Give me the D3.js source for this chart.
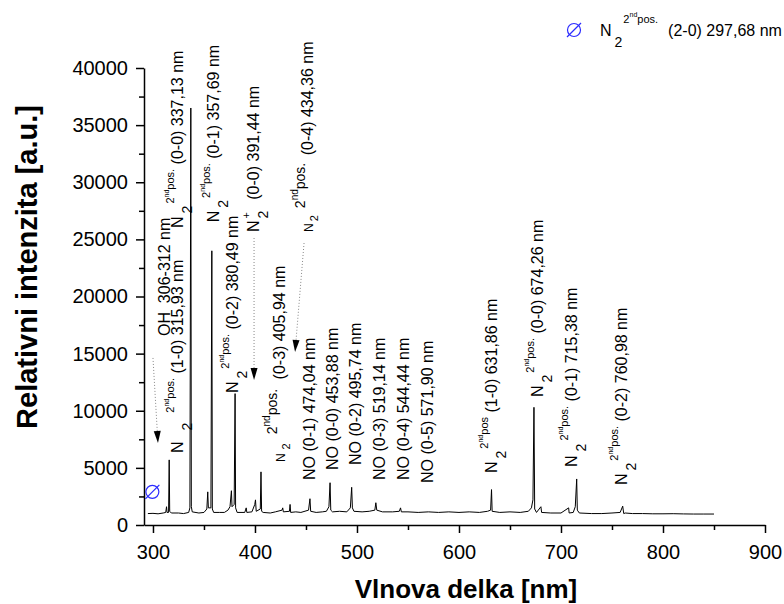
<!DOCTYPE html>
<html>
<head>
<meta charset="utf-8">
<script src="https://cdn.jsdelivr.net/npm/d3@7/dist/d3.min.js"></script>
<style>
  body { margin: 0; background: #fff; }
  svg { display: block; font-family: "Liberation Sans", Arial, sans-serif; }
  text { white-space: pre; }
</style>
</head>
<body>
<svg id="chart" width="784" height="604"></svg>
<script>
// Emission spectrum, values (nm / a.u.)
const wavelengths = [
  295, 300, 305, 310, 312.5, 313.3, 313.8, 315.3, 315.9, 316.4, 318, 325, 330, 335, 336.2, 337.1, 337.6, 338.5,
  345, 350, 352.8, 353.7, 354.3, 356.8, 357.7, 358.2, 359.5, 365, 370, 373.5, 375.5, 376.9, 377.5, 379.6, 380.5,
  381.0, 382.5, 390, 391.4, 392, 397, 399.8, 400.5, 401.2, 405.2, 405.9, 406.5, 408, 415, 420, 426.5, 427.2,
  427.8, 433.8, 434.4, 435, 440, 445, 452.5, 453.9, 454.6, 460, 466, 470, 472.5, 473.6, 474.3, 476, 483, 490,
  493.5, 494.8, 495.5, 497, 505, 512, 517.5, 518.5, 519.4, 525, 535, 541.5, 542.7, 543.5, 550, 560, 570, 580,
  590, 600, 610, 620, 628, 631, 631.9, 632.5, 640, 650, 660, 668, 671, 672.5, 673.5, 674.2, 676, 680.3, 681,
  690, 700, 707.5, 708, 712, 714, 715.4, 716, 718, 730, 740, 750, 758, 760.5, 761.5, 763, 770, 780, 790, 800,
  810, 820, 830, 840, 850
];
const intensities = [
  1000, 1020, 980, 1050, 1100, 1600, 1100, 1100, 5700, 1200, 1050, 1050, 1000, 1100, 1500, 36500, 1600, 1150,
  1050, 1100, 1400, 2900, 1500, 1500, 24000, 1400, 1100, 1100, 1100, 1300, 1600, 3000, 1600, 1800, 11500,
  1500, 1100, 1100, 1500, 1100, 1150, 1800, 2200, 1200, 1400, 4650, 1200, 1100, 1050, 1150, 1300, 1500,
  1150, 1200, 1800, 1100, 1150, 1100, 1300, 2300, 1200, 1100, 1150, 1200, 1600, 3700, 1300, 1150, 1200, 1150,
  1500, 3300, 1500, 1200, 1150, 1200, 1300, 1950, 1300, 1150, 1150, 1200, 1500, 1150, 1150, 1100, 1150, 1100,
  1150, 1100, 1150, 1100, 1200, 1300, 3100, 1200, 1100, 1150, 1100, 1200, 1500, 2200, 10300, 1400, 1100, 1600, 1100,
  1050, 1050, 1500, 1050, 1100, 1600, 4030, 1300, 1050, 1000, 1000, 1050, 1100, 1650, 1000, 1050, 1000, 1000, 980, 980,
  990, 970, 960, 960, 960
];

const xTicks = [300, 400, 500, 600, 700, 800, 900];
const xMinorTicks = [350, 450, 550, 650, 750, 850];
const yTicks = [0, 5000, 10000, 15000, 20000, 25000, 30000, 35000, 40000];
const yMinorTicks = [2500, 7500, 12500, 17500, 22500, 27500, 32500, 37500];

// N2 2nd pos. (2-0) 297,68 nm marker
const markerPoint = { wl: 299.4, value: 2900 };

// N2 second positive band labels: anchor = start of "N" (nm, a.u.)
const n2Labels = [
  { band: '(1-0) 315,93 nm', sup: 'pos.', small: false, pad: 8, at: [329.4, 6300] },
  { band: '(0-0) 337,13 nm', sup: 'pos.', small: false, pad: 0, at: [329.4, 26000] },
  { band: '(0-1) 357,69 nm', sup: 'pos.', small: false, pad: 0, at: [364.8, 26500] },
  { band: '(0-2) 380,49 nm', sup: 'pos.', small: false, pad: 0, at: [383.4, 11550] },
  { band: '(0-4) 434,36 nm', sup: 'pos.', small: true, pad: 0, at: [456.9, 25650] },
  { band: '(0-3) 405,94 nm', sup: 'pos.', small: true, pad: 2, at: [429.5, 5510] },
  { band: '(1-0) 631,86 nm', sup: 'pos', small: false, pad: 0, at: [637.4, 4550] },
  { band: '(0-0) 674,26 nm', sup: 'pos.', small: false, pad: 0, at: [682.5, 11200] },
  { band: '(0-1) 715,38 nm', sup: 'pos.', small: false, pad: 1, at: [715.8, 5080] },
  { band: '(0-2) 760,98 nm', sup: 'pos.', small: false, pad: 0, at: [764.9, 3500] }
];
const ionLabel = { band: '(0-0) 391,44 nm', at: [404.0, 25650] };
const ohLabel = { text: 'OH  306-312 nm', at: [316.7, 16540] };

const noLabels = ['NO (0-1) 474,04 nm', 'NO (0-0) 453,88 nm', 'NO (0-2) 495,74 nm',
                  'NO (0-3) 519,14 nm', 'NO (0-4) 544,44 nm', 'NO (0-5) 571,90 nm'];
const noAnchors = [[458.9, 3940], [481.5, 4810], [504.0, 5250], [527.5, 3940], [551.1, 3940], [574.6, 3680]];

// dotted pointers: [start nm, start a.u., tip nm, tip a.u.]
const pointers = [
  [300.0, 14620, 304.9, 7180],
  [399.1, 25120, 399.1, 12690],
  [448.1, 24680, 439.3, 15140]
];

const svg = d3.select('#chart');
const x = d3.scaleLinear().domain([291.2, 900]).range([144, 765]);
const y = d3.scaleLinear().domain([0, 40000]).range([525, 68]);

// axes
const axisFont = g => g.selectAll('text').style('font-size', '20px').attr('fill', '#000');
const axisLine = g => g.selectAll('path, line').attr('stroke', '#000').attr('stroke-width', 1.5);

svg.append('g').attr('transform', 'translate(0,525)')
  .call(d3.axisBottom(x).tickValues(xMinorTicks).tickSize(5).tickFormat('').tickSizeOuter(0))
  .call(axisLine).call(g => g.select('.domain').remove());
svg.append('g').attr('transform', 'translate(0,525)')
  .call(d3.axisBottom(x).tickValues(xTicks).tickSize(8).tickPadding(12).tickSizeOuter(0))
  .call(axisLine).call(axisFont);

svg.append('g').attr('transform', 'translate(144,0)')
  .call(d3.axisLeft(y).tickValues(yMinorTicks).tickSize(5).tickFormat('').tickSizeOuter(0))
  .call(axisLine).call(g => g.select('.domain').remove());
svg.append('g').attr('transform', 'translate(144,0)')
  .call(d3.axisLeft(y).tickValues(yTicks).tickSize(8).tickPadding(8).tickSizeOuter(0).tickFormat(d3.format('d')))
  .call(axisLine).call(axisFont);

svg.selectAll('.tick text').attr('font-family', null);

// axis titles
svg.append('text')
  .attr('x', 466).attr('y', 598)
  .attr('text-anchor', 'middle')
  .style('font-size', '26px').style('font-weight', 'bold')
  .text('Vlnova delka [nm]');
svg.append('text')
  .attr('transform', 'translate(37,267) rotate(-90)')
  .attr('text-anchor', 'middle')
  .style('font-size', '29px').style('font-weight', 'bold')
  .text('Relativni intenzita [a.u.]');

// spectrum
const spectrum = wavelengths.map((w, i) => ({ wl: w, value: intensities[i] }));
svg.append('path')
  .datum(spectrum)
  .attr('fill', 'none')
  .attr('stroke', '#000')
  .attr('stroke-width', 1)
  .attr('d', d3.line().x(d => x(d.wl)).y(d => y(d.value)));

// slashed circle symbol
const slashCircle = (g, cx, cy) => {
  g.append('circle').attr('cx', cx).attr('cy', cy).attr('r', 6.5)
    .attr('fill', 'none').attr('stroke', '#2b2bff').attr('stroke-width', 1.2);
  g.append('line').attr('x1', cx - 7).attr('y1', cy + 7).attr('x2', cx + 7).attr('y2', cy - 7)
    .attr('stroke', '#2b2bff').attr('stroke-width', 1.2);
};
slashCircle(svg, x(markerPoint.wl), y(markerPoint.value));

// rich text helper: parts carry baseline offsets relative to the main line
const richText = (t, parts) => {
  let cur = 0;
  parts.forEach(p => {
    const off = p.off || 0;
    t.append('tspan')
      .attr('dy', off - cur)
      .attr('dx', p.dx || 0)
      .style('font-size', p.size + 'px')
      .text(p.t);
    cur = off;
  });
};

const n2Parts = (d) => d.small
  ? [{ t: 'N', size: 12 }, { t: '2', size: 11, off: 5, dx: 2 + d.pad },
     { t: '2', size: 14, off: -8, dx: 7 + d.pad }, { t: 'nd', size: 10, off: -15 }, { t: d.sup, size: 14, off: -8 },
     { t: ' ' + d.band, size: 16, off: 0, dx: 3 + d.pad }]
  : [{ t: 'N', size: 16 }, { t: '2', size: 14, off: 9, dx: 3 + d.pad },
     { t: '2', size: 11, off: -9, dx: 2 + d.pad }, { t: 'nd', size: 7, off: -14 }, { t: d.sup, size: 11, off: -9 },
     { t: ' ' + d.band, size: 16, off: 0 }];

const labels = svg.append('g').attr('fill', '#000');
n2Labels.forEach(d => {
  const t = labels.append('text')
    .attr('transform', `translate(${x(d.at[0])},${y(d.at[1])}) rotate(-90)`);
  richText(t, n2Parts(d));
});

// N2+ first negative
{
  const t = labels.append('text')
    .attr('transform', `translate(${x(ionLabel.at[0])},${y(ionLabel.at[1])}) rotate(-90)`);
  richText(t, [{ t: 'N', size: 16 }, { t: '2', size: 14, off: 9, dx: 2 },
               { t: '+', size: 11, off: -9, dx: -8 }, { t: ' ' + ionLabel.band, size: 16, off: 0, dx: 8 }]);
}

labels.append('text')
  .attr('transform', `translate(${x(ohLabel.at[0])},${y(ohLabel.at[1])}) rotate(-90)`)
  .style('font-size', '16px')
  .text(ohLabel.text);

noLabels.forEach((txt, i) => {
  labels.append('text')
    .attr('transform', `translate(${x(noAnchors[i][0])},${y(noAnchors[i][1])}) rotate(-90)`)
    .style('font-size', '16px')
    .text(txt);
});

// dotted pointers with arrow heads
pointers.forEach(p => {
  const x1 = x(p[0]), y1 = y(p[1]), x2 = x(p[2]), y2 = y(p[3]);
  const ang = Math.atan2(y2 - y1, x2 - x1);
  const hl = 12, hw = 3.5;
  const bx = x2 - hl * Math.cos(ang), by = y2 - hl * Math.sin(ang);
  svg.append('line')
    .attr('x1', x1).attr('y1', y1).attr('x2', bx).attr('y2', by)
    .attr('stroke', '#888').attr('stroke-width', 1).attr('stroke-dasharray', '1,2');
  svg.append('path')
    .attr('d', `M${x2},${y2}L${bx - hw * Math.sin(ang)},${by + hw * Math.cos(ang)}L${bx + hw * Math.sin(ang)},${by - hw * Math.cos(ang)}Z`)
    .attr('fill', '#000');
});

// legend
const legend = svg.append('g');
slashCircle(legend, 574, 30);
const lt = legend.append('text').attr('x', 600).attr('y', 36);
richText(lt, [{ t: 'N', size: 16 }, { t: '2', size: 14, off: 11, dx: 3 },
              { t: '2', size: 11, off: -13, dx: 1 }, { t: 'nd', size: 7, off: -19 }, { t: 'pos.', size: 11, off: -13 },
              { t: '(2-0) 297,68 nm', size: 16, off: 0, dx: 10 }]);
</script>
</body>
</html>
